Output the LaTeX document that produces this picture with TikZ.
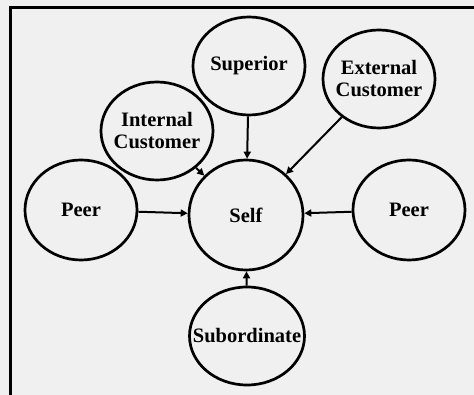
\documentclass[tikz,border=0pt]{standalone}
\usepackage{fontspec}
\setmainfont{Liberation Serif}
\usetikzlibrary{shapes.geometric,arrows.meta}
\tikzset{
    role/.style={ellipse,draw,line width=2.7pt,minimum width=112pt,minimum height=98pt,
        inner sep=-30pt,align=center,font=\fontsize{20.5}{22}\selectfont\bfseries},
    feed/.style={draw,line width=2pt,-{Triangle[width=7pt,length=7pt]}},
}

\begin{document}
\begin{tikzpicture}[x=1pt,y=-1pt]
    \useasboundingbox (0,0) rectangle (474,395);
    \fill[gray!12] (0,0) rectangle (474,395);
    % frame
    \draw[line width=3pt] (474,8) -- (10,8) -- (10,395);
    % people round the self
    \node[role,minimum width=114pt,minimum height=110pt] (Self) at (246,215) {Self};
    \node[role] (Superior) at (249,66) {Superior};
    \node[role] (ExtCust) at (379,79) {External\\Customer};
    \node[role] (IntCust) at (157,131) {Internal\\Customer};
    \node[role,minimum height=100pt] (PeerL) at (81,210) {Peer};
    \node[role,minimum height=100pt] (PeerR) at (409,210) {Peer};
    \node[role,minimum width=115pt] (Sub) at (247,336) {Subordinate};
    % feedback arrows
    \draw[feed] (Superior) -- (Self);
    \draw[feed] (ExtCust) -- (Self);
    \draw[feed] (IntCust) -- (Self);
    \draw[feed] (PeerL) -- (Self);
    \draw[feed] (PeerR) -- (Self);
    \draw[feed] (Sub) -- (Self);
\end{tikzpicture}
\end{document}
